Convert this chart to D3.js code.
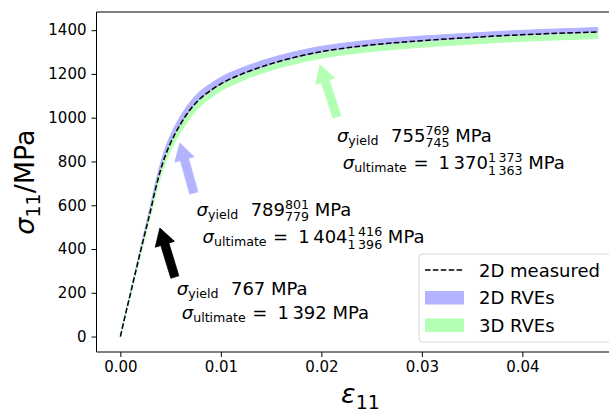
<!DOCTYPE html>
<html lang="en">
<head>
    <meta charset="UTF-8">
    <title>Stress-strain</title>
    <script src="https://cdn.jsdelivr.net/npm/d3@7"></script>
    <style>
        body { margin: 0; background: #fff; }
        text { font-family: "DejaVu Sans", sans-serif; fill: #000; }
    </style>
</head>
<body>
</body>
<script>
    const width = 609;
    const height = 413;

    // curve data
    const strain   = [0, 0.0005, 0.001, 0.0015, 0.002, 0.0025, 0.003, 0.0035, 0.004, 0.0045, 0.005, 0.006, 0.007, 0.008, 0.009, 0.010, 0.012, 0.014, 0.016, 0.018, 0.020, 0.023, 0.026, 0.030, 0.034, 0.038, 0.042, 0.0475];
    const measured = [0, 100, 195, 292, 388, 482, 575, 675, 760, 830, 885, 972, 1040, 1090, 1125, 1155, 1198, 1232, 1260, 1283, 1302, 1322, 1337, 1352, 1364, 1375, 1383, 1392];
    const rve2dHigh = [0, 104, 203, 304, 404, 502, 599, 703, 792, 864, 921, 1008, 1075, 1123, 1156, 1185, 1226, 1259, 1286, 1308, 1326, 1345, 1359, 1373, 1384, 1395, 1403, 1412];
    const rve2dLow  = [0, 99, 193, 289, 384, 477, 569, 668, 752, 821, 876, 962, 1030, 1080, 1116, 1146, 1190, 1225, 1254, 1278, 1297, 1318, 1333, 1348, 1361, 1372, 1380, 1389];
    const rve3dHigh = [0, 100, 195, 291, 386, 480, 572, 671, 755, 824, 879, 965, 1033, 1083, 1118, 1148, 1191, 1225, 1253, 1276, 1295, 1315, 1330, 1345, 1357, 1368, 1376, 1386];
    const rve3dLow  = [0, 96, 187, 280, 372, 462, 551, 647, 728, 796, 849, 934, 1002, 1054, 1091, 1122, 1167, 1202, 1230, 1253, 1272, 1292, 1307, 1322, 1334, 1345, 1353, 1362];

    const xTicks = [0, 0.01, 0.02, 0.03, 0.04];
    const yTicks = [0, 200, 400, 600, 800, 1000, 1200, 1400];

    const legendLabels = ["2D measured", "2D RVEs", "3D RVEs"];

    // annotation values: [main, upper, lower]
    const yieldVals = [["767"], ["789", "801", "779"], ["755", "769", "745"]];
    const ultVals = [["1\u2009392"], ["1\u2009404", "1\u2009416", "1\u2009396"], ["1\u2009370", "1\u2009373", "1\u2009363"]];

    const blue = "#b3b3ff";
    const green = "#b3ffb3";

    const svg = d3.select("body")
        .append("svg")
        .attr("width", width)
        .attr("height", height);

    // axes box (right side runs off the figure)
    const axL = 96.5, axR = 621.6, axT = 12, axB = 352;

    const x = d3.scaleLinear().domain([-0.002375, 0.049875]).range([axL, axR]);
    const y = d3.scaleLinear().domain([-70.6, 1483]).range([axB, axT]);

    svg.append("clipPath").attr("id", "clip")
        .append("rect")
        .attr("x", axL).attr("y", axT)
        .attr("width", axR - axL).attr("height", axB - axT);

    const plot = svg.append("g").attr("clip-path", "url(#clip)");

    const idx = d3.range(strain.length);

    const band = (lo, hi) => d3.area()
        .curve(d3.curveMonotoneX)
        .x(i => x(strain[i]))
        .y0(i => y(lo[i]))
        .y1(i => y(hi[i]));

    plot.append("path")
        .attr("d", band(rve2dLow, rve2dHigh)(idx))
        .attr("fill", blue)
        .attr("stroke", blue)
        .attr("stroke-width", 1);

    plot.append("path")
        .attr("d", band(rve3dLow, rve3dHigh)(idx))
        .attr("fill", green)
        .attr("stroke", green)
        .attr("stroke-width", 1);

    plot.append("path")
        .attr("d", d3.line().curve(d3.curveMonotoneX)
            .x(i => x(strain[i])).y(i => y(measured[i]))(idx))
        .attr("fill", "none")
        .attr("stroke", "#000")
        .attr("stroke-width", 1.5)
        .attr("stroke-dasharray", "5.5,2.4");

    // spines
    svg.append("line").attr("x1", axL).attr("x2", axL).attr("y1", axT).attr("y2", axB)
        .attr("stroke", "#000").attr("stroke-width", 1);
    svg.append("line").attr("x1", axL).attr("x2", width).attr("y1", axB).attr("y2", axB)
        .attr("stroke", "#000").attr("stroke-width", 1);
    svg.append("line").attr("x1", axL).attr("x2", width).attr("y1", axT).attr("y2", axT)
        .attr("stroke", "#000").attr("stroke-width", 1);

    // axes
    const xAxis = svg.append("g")
        .attr("transform", `translate(0,${axB})`)
        .call(d3.axisBottom(x).tickValues(xTicks).tickFormat(d3.format(".2f")).tickSize(5).tickPadding(4));
    const yAxis = svg.append("g")
        .attr("transform", `translate(${axL},0)`)
        .call(d3.axisLeft(y).tickValues(yTicks).tickFormat(d3.format("d")).tickSize(5).tickPadding(5));

    [xAxis, yAxis].forEach(a => {
        a.select(".domain").remove();
        a.selectAll("text").style("font-size", "15px").style("font-family", "DejaVu Sans");
        a.selectAll("line").attr("stroke", "#000");
    });

    // axis labels
    const xl = svg.append("text")
        .attr("x", x(0.02375) - 18)
        .attr("y", 403)
        .style("font-size", "27px");
    xl.append("tspan").style("font-style", "italic").text("ε");
    xl.append("tspan").attr("dy", 6).style("font-size", "19px").text("11");

    const yl = svg.append("text")
        .attr("transform", `translate(34,${(axT + axB) / 2}) rotate(-90)`)
        .attr("text-anchor", "middle")
        .style("font-size", "27px");
    yl.append("tspan").style("font-style", "italic").text("σ");
    yl.append("tspan").attr("dy", 6).style("font-size", "19px").text("11");
    yl.append("tspan").attr("dy", -6).text("/MPa");

    // annotation helper: lays out pieces left to right
    function mathLine(px, py, parts) {
        const g = svg.append("g");
        let cx = px;
        const piece = (t, xx, yy, size, italic) => {
            const el = g.append("text")
                .attr("x", xx).attr("y", yy)
                .style("font-size", size + "px")
                .style("font-style", italic ? "italic" : "normal")
                .text(t);
            return el.node().getComputedTextLength();
        };
        parts.forEach(p => {
            if (p.gap) { cx += p.gap; return; }
            if (p.sup) {
                const a = piece(p.sup, cx, py - 7, 12.6, false);
                const b = piece(p.sub, cx, py + 5.5, 12.6, false);
                cx += Math.max(a, b);
                return;
            }
            cx += piece(p.t, cx, py + (p.dy || 0), p.s ? 18 * p.s : 18, p.it);
        });
    }

    function arrow(tip, tail, color) {
        const x1 = x(tail[0]), y1 = y(tail[1]), x2 = x(tip[0]), y2 = y(tip[1]);
        const len = Math.hypot(x2 - x1, y2 - y1);
        const ux = (x2 - x1) / len, uy = (y2 - y1) / len;
        const nx = -uy, ny = ux;
        const w = 4.2, hw = 10, hl = 17;
        const bx = x2 - ux * hl, by = y2 - uy * hl;
        const pts = [
            [x1 + nx * w, y1 + ny * w], [bx + nx * w, by + ny * w], [bx + nx * hw, by + ny * hw],
            [x2, y2],
            [bx - nx * hw, by - ny * hw], [bx - nx * w, by - ny * w], [x1 - nx * w, y1 - ny * w]
        ];
        svg.append("polygon")
            .attr("points", pts.map(p => p.join(",")).join(" "))
            .attr("fill", color)
            .attr("stroke", color)
            .attr("stroke-width", 0.8);
    }

    const notes = [
        { color: "#000", tip: [0.00393, 496], tail: [0.00542, 272], at: [0.00562, 190], at2: [0.00611, 78] },
        { color: blue, tip: [0.00592, 884], tail: [0.00731, 656], at: [0.00758, 551], at2: [0.00818, 426] },
        { color: green, tip: [0.01985, 1241], tail: [0.02155, 1004], at: [0.02155, 890], at2: [0.02214, 764] }
    ];

    notes.forEach((n, i) => {
        arrow(n.tip, n.tail, n.color);
        const yv = yieldVals[i], uv = ultVals[i];
        const l1 = [{ t: "σ", it: true }, { t: "yield", s: 0.7, dy: 3.5 }, { gap: 12.5 }, { t: yv[0] }];
        if (yv.length > 1) l1.push({ sup: yv[1], sub: yv[2] });
        l1.push({ gap: 5.7 }, { t: "MPa" });
        mathLine(x(n.at[0]), y(n.at[1]), l1);

        const l2 = [{ t: "σ", it: true }, { t: "ultimate", s: 0.7, dy: 3 }, { gap: 6.5 }, { t: "=" }, { gap: 10 }, { t: uv[0] }];
        if (uv.length > 1) l2.push({ sup: uv[1], sub: uv[2] });
        l2.push({ gap: 5.7 }, { t: "MPa" });
        mathLine(x(n.at2[0]), y(n.at2[1]), l2);
    });

    // legend
    const legend = svg.append("g").attr("transform", "translate(419,254)");
    legend.append("rect")
        .attr("x", 0).attr("y", 0)
        .attr("width", 200).attr("height", 88)
        .attr("rx", 4)
        .attr("fill", "#fff").attr("fill-opacity", 0.8)
        .attr("stroke", "#d5d5d5").attr("stroke-width", 1);

    legendLabels.forEach((lab, i) => {
        const cy = 16 + i * 27.5;
        if (i === 0) {
            legend.append("line")
                .attr("x1", 6).attr("x2", 45).attr("y1", cy).attr("y2", cy)
                .attr("stroke", "#000").attr("stroke-width", 1.5)
                .attr("stroke-dasharray", "5.5,2.4");
        } else {
            legend.append("rect")
                .attr("x", 6).attr("y", cy - 6.5)
                .attr("width", 39).attr("height", 13.5)
                .attr("fill", i === 1 ? blue : green);
        }
        legend.append("text")
            .attr("x", 60).attr("y", cy + 6.5)
            .style("font-size", "18px")
            .text(lab);
    });
</script>
</html>
